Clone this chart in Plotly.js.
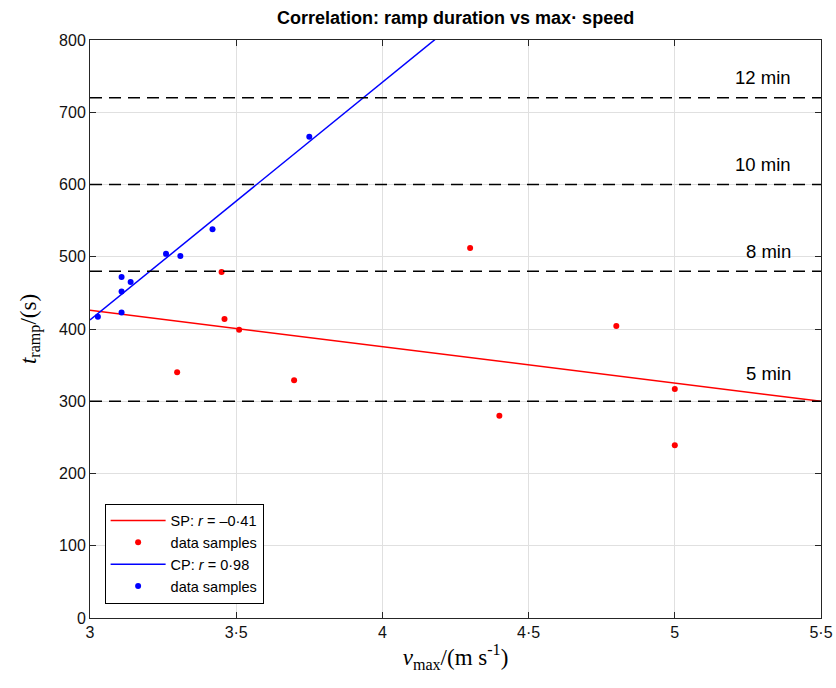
<!DOCTYPE html>
<html>
<head>
<meta charset="utf-8">
<script src="https://cdn.plot.ly/plotly-3.0.1.min.js"></script>
<style>html,body{margin:0;padding:0;background:#fff;}#chart{width:836px;height:688px;}</style>
</head>
<body>
<div id="chart"></div>
<script>
// SP samples
const spX = [3.298, 3.45, 3.46, 3.51, 3.698, 4.30, 4.40, 4.80, 5.0, 5.0];
const spY = [340, 479, 414, 399, 329, 512, 280, 404, 317, 239];
// CP samples
const cpX = [3.027, 3.108, 3.108, 3.108, 3.139, 3.26, 3.309, 3.419, 3.75];
const cpY = [417, 423, 452, 472, 465, 504, 501, 538, 666];
// fitted lines (endpoints)
const fitX = [3, 5.5];
const spFitY = [426, 300];
const cpFitY = [412.5, 1235];
// reference durations and their label anchors
const refY = [300, 480, 600, 720];
const refLabels = ['5 min', '8 min', '10 min', '12 min'];
const refLabelY = [338, 507, 628, 748];
const xTickVals = [3, 3.5, 4, 4.5, 5, 5.5];
const xTickText = ['3', '3·5', '4', '4·5', '5', '5·5'];
const yTickVals = [0, 100, 200, 300, 400, 500, 600, 700, 800];

const traces = [
  {x: fitX, y: spFitY, mode: 'lines', line: {color: '#ff0000', width: 1.5}, name: 'SP: <i>r</i> = –0·41'},
  {x: spX, y: spY, mode: 'markers', marker: {color: '#ff0000', size: 6}, name: 'data samples'},
  {x: fitX, y: cpFitY, mode: 'lines', line: {color: '#0000ff', width: 1.5}, name: 'CP: <i>r</i> = 0·98'},
  {x: cpX, y: cpY, mode: 'markers', marker: {color: '#0000ff', size: 6}, name: 'data samples'}
];

const shapes = refY.map(v => ({
  type: 'line', xref: 'paper', x0: 0, x1: 1, yref: 'y', y0: v, y1: v,
  line: {color: '#000', width: 1.5, dash: '12px,7px'}, layer: 'above'
}));
const annotations = refLabelY.map((v, i) => ({
  x: 5.405, y: v, xref: 'x', yref: 'y', xanchor: 'right', yanchor: 'middle',
  text: refLabels[i], showarrow: false,
  font: {family: 'Liberation Sans, Arial, sans-serif', size: 18.5, color: '#000'}
}));

const layout = {
  width: 836, height: 688,
  margin: {l: 90, r: 15, t: 40, b: 70},
  paper_bgcolor: '#fff', plot_bgcolor: '#fff',
  title: {text: '<b>Correlation: ramp duration vs max· speed</b>', x: 0.545, xanchor: 'center', y: 0.975, yanchor: 'middle',
    font: {family: 'Liberation Sans, Arial, sans-serif', size: 18, color: '#000'}},
  xaxis: {
    range: [3, 5.5], tickvals: xTickVals, ticktext: xTickText,
    ticks: 'inside', ticklen: 6, tickcolor: '#262626', mirror: 'ticks',
    showline: true, linecolor: '#262626', linewidth: 1,
    showgrid: true, gridcolor: '#e0e0e0', zeroline: false,
    tickfont: {family: 'Liberation Sans, Arial, sans-serif', size: 16, color: '#111'},
    title: {text: '<i>v</i><sub>max</sub>/(m s<sup>-1</sup>)', standoff: 8,
      font: {family: 'Liberation Serif, DejaVu Serif, serif', size: 23, color: '#000'}}
  },
  yaxis: {
    range: [0, 800], tickvals: yTickVals,
    ticks: 'inside', ticklen: 6, tickcolor: '#262626', mirror: 'ticks',
    showline: true, linecolor: '#262626', linewidth: 1,
    showgrid: true, gridcolor: '#e0e0e0', zeroline: false,
    tickfont: {family: 'Liberation Sans, Arial, sans-serif', size: 16, color: '#111'},
    title: {text: '<i>t</i><sub>ramp</sub>/(s)', standoff: 16,
      font: {family: 'Liberation Serif, DejaVu Serif, serif', size: 23, color: '#000'}}
  },
  showlegend: true,
  legend: {x: 0.02, y: 0.025, xanchor: 'left', yanchor: 'bottom',
    bgcolor: '#fff', bordercolor: '#000', borderwidth: 1, tracegroupgap: 0,
    itemwidth: 55,
    font: {family: 'Liberation Sans, Arial, sans-serif', size: 14.5, color: '#000'}},
  shapes: shapes,
  annotations: annotations
};

Plotly.newPlot('chart', traces, layout, {displayModeBar: false, staticPlot: true});
</script>
</body>
</html>
